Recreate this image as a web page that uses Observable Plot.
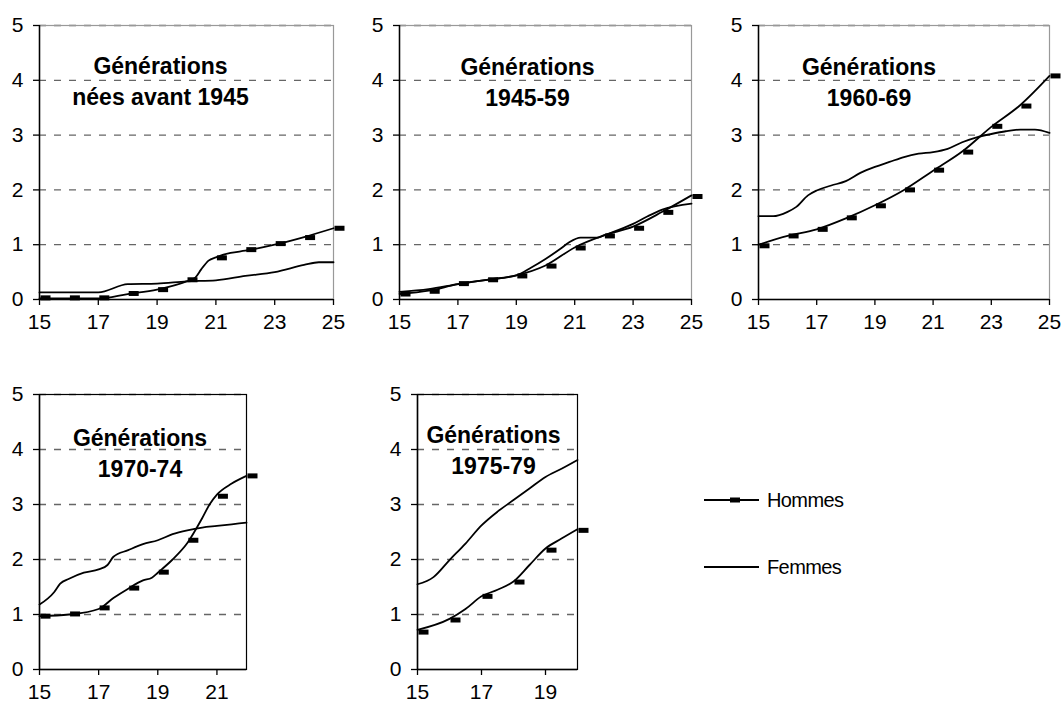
<!DOCTYPE html>
<html>
<head>
<meta charset="utf-8">
<script src="https://cdn.jsdelivr.net/npm/d3@7"></script>
<script src="https://cdn.jsdelivr.net/npm/@observablehq/plot@0.6"></script>
<style>
html, body { margin: 0; padding: 0; background: #fff; }
#chart { position: relative; width: 1063px; height: 709px; overflow: hidden; background: #fff;
  font-family: "Liberation Sans", Arial, sans-serif; }
.panel { position: absolute; }
.panel svg { max-width: none !important; }
</style>
</head>
<body>
<div id="chart"></div>
<script>
// ---------- DATA ----------
const titles = [
  "Générations\nnées avant 1945",
  "Générations\n1945-59",
  "Générations\n1960-69",
  "Générations\n1970-74",
  "Générations\n1975-79"
];
const xMax = [25, 25, 25, 22, 20];
const xTicksTop = [15, 17, 19, 21, 23, 25];
const xTicksP4 = [15, 17, 19, 21];
const xTicksP5 = [15, 17, 19];
const yTicks = [0, 1, 2, 3, 4, 5];
const gridValues = [1, 2, 3, 4, 5];

const agesTop = [15, 16, 17, 18, 19, 20, 21, 22, 23, 24, 25];
const agesP4 = [15, 16, 17, 18, 19, 20, 21, 22];
const agesP5 = [15, 16, 17, 18, 19, 20];

// Hommes: values at markers (yearly)
const hommesMarkers1 = [0.03, 0.03, 0.03, 0.11, 0.18, 0.36, 0.76, 0.91, 1.02, 1.13, 1.30];
const hommesMarkers2 = [0.10, 0.15, 0.29, 0.36, 0.43, 0.61, 0.94, 1.16, 1.30, 1.59, 1.88];
const hommesMarkers3 = [0.98, 1.16, 1.28, 1.49, 1.71, 2.00, 2.36, 2.69, 3.16, 3.53, 4.08];
const hommesMarkers4 = [0.97, 1.01, 1.12, 1.48, 1.77, 2.35, 3.15, 3.52];
const hommesMarkers5 = [0.68, 0.90, 1.33, 1.59, 2.17, 2.53];

// Hommes: curve [age, value]
const hommesLine1 = [[15,0.02],[16,0.02],[17,0.02],[18,0.10],[19,0.18],[20,0.33],[20.3,0.40],[20.5,0.55],[20.75,0.71],[21,0.77],[21.5,0.85],[22,0.89],[23,1.00],[24,1.14],[25,1.30]];
const hommesLine2 = [[15,0.10],[16,0.16],[17,0.28],[18,0.36],[19,0.44],[20,0.62],[21,0.95],[22,1.17],[23,1.33],[24,1.60],[25,1.90]];
const hommesLine3 = [[15,1.00],[16,1.16],[17,1.28],[18,1.48],[19,1.72],[20,2.00],[21,2.35],[22,2.70],[23,3.15],[24,3.55],[25,4.08]];
const hommesLine4 = [[15,0.97],[16,1.00],[17,1.10],[17.5,1.30],[18,1.47],[18.5,1.62],[18.8,1.67],[19,1.76],[19.5,2.00],[20,2.30],[20.5,2.75],[20.75,3.00],[21,3.18],[21.5,3.38],[22,3.52]];
const hommesLine5 = [[15,0.72],[16,0.92],[16.5,1.10],[17,1.33],[17.5,1.45],[18,1.60],[18.5,1.90],[19,2.20],[19.5,2.38],[20,2.55]];

// Femmes: curve [age, value]
const femmesLine1 = [[15,0.13],[16,0.13],[17,0.13],[18,0.28],[19,0.29],[20,0.33],[21,0.35],[22,0.43],[23,0.50],[24,0.63],[24.5,0.68],[25,0.68]];
const femmesLine2 = [[15,0.14],[16,0.19],[17,0.28],[18,0.36],[19,0.44],[19.5,0.58],[20,0.74],[20.5,0.92],[20.8,1.04],[21.2,1.13],[21.8,1.13],[22,1.17],[23,1.38],[23.5,1.52],[24,1.64],[25,1.75]];
const femmesLine3 = [[15,1.52],[15.5,1.52],[16,1.60],[16.3,1.69],[16.7,1.90],[17,1.99],[17.5,2.08],[18,2.16],[18.5,2.31],[19,2.42],[19.5,2.51],[20,2.60],[20.5,2.66],[21,2.69],[21.5,2.75],[22,2.87],[22.5,2.96],[23,3.02],[23.5,3.07],[24,3.10],[24.5,3.10],[25,3.04]];
const femmesLine4 = [[15,1.18],[15.5,1.41],[15.7,1.56],[16,1.65],[16.5,1.76],[17,1.82],[17.3,1.90],[17.5,2.05],[18,2.17],[18.5,2.28],[19,2.35],[19.5,2.46],[20,2.53],[20.5,2.58],[21,2.61],[21.5,2.64],[22,2.67]];
const femmesLine5 = [[15,1.55],[15.5,1.68],[16,1.99],[16.5,2.29],[17,2.62],[17.5,2.87],[18,3.08],[18.5,3.29],[19,3.50],[19.5,3.65],[20,3.81]];

const legendLabels = ["Hommes", "Femmes"];

// ---------- LAYOUT ----------
const panels = [
  {left: 0,   top: 0,   ml: 39, w: 294, mt: 25, h: 274, frame: "#999", tdx: -26, tdy: 54,
   ticks: xTicksTop, ages: agesTop, hm: hommesMarkers1, hl: hommesLine1, fl: femmesLine1},
  {left: 360, top: 0,   ml: 39, w: 292, mt: 25, h: 274, frame: "#999", tdx: -18, tdy: 55,
   ticks: xTicksTop, ages: agesTop, hm: hommesMarkers2, hl: hommesLine2, fl: femmesLine2},
  {left: 719, top: 0,   ml: 39, w: 291, mt: 25, h: 274, frame: "#999", tdx: -35, tdy: 55,
   ticks: xTicksTop, ages: agesTop, hm: hommesMarkers3, hl: hommesLine3, fl: femmesLine3},
  {left: 0,   top: 370, ml: 39, w: 207, mt: 24, h: 275, frame: "#000", tdx: -3, tdy: 57,
   ticks: xTicksP4, ages: agesP4, hm: hommesMarkers4, hl: hommesLine4, fl: femmesLine4},
  {left: 378, top: 370, ml: 39, w: 160, mt: 24, h: 275, frame: "#000", tdx: -4, tdy: 54,
   ticks: xTicksP5, ages: agesP5, hm: hommesMarkers5, hl: hommesLine5, fl: femmesLine5}
];

const barSymbol = {
  draw(ctx) {
    ctx.moveTo(-5, -2.5); ctx.lineTo(5, -2.5); ctx.lineTo(5, 2.5); ctx.lineTo(-5, 2.5); ctx.closePath();
  }
};

const chart = document.getElementById("chart");

panels.forEach((p, i) => {
  const mr = 24, mb = 40;
  const W = p.ml + p.w + mr, H = p.mt + p.h + mb;
  const markerData = p.hm.map((v, j) => ({age: p.ages[j], value: v}));
  const svg = Plot.plot({
    width: W,
    height: H,
    marginLeft: p.ml, marginRight: mr, marginTop: p.mt, marginBottom: mb,
    x: {domain: [15, xMax[i]]},
    y: {domain: [0, 5]},
    style: {fontFamily: "'Liberation Sans', Arial, sans-serif", fontSize: "21px", color: "#000",
            background: "transparent", overflow: "visible", maxWidth: "none"},
    marks: [
      Plot.gridY(gridValues, {stroke: "#666", strokeOpacity: 1, strokeDasharray: "7,8", strokeWidth: 1.3}),
      Plot.frame({stroke: p.frame, strokeWidth: 1.2}),
      Plot.ruleY([0], {stroke: "#000", strokeWidth: 1.5}),
      Plot.ruleX([15], {stroke: "#000", strokeWidth: 1.5}),
      Plot.axisY(yTicks, {tickSize: 6, tickPadding: 10, fontSize: 21, label: null, strokeWidth: 1.3, tickFormat: d => String(d)}),
      Plot.axisX(p.ticks, {tickSize: 6, tickPadding: 9, fontSize: 21, label: null, strokeWidth: 1.3, tickFormat: d => String(d)}),
      Plot.line(p.fl, {x: d => d[0], y: d => d[1], stroke: "#000", strokeWidth: 1.8, curve: "monotone-x"}),
      Plot.line(p.hl, {x: d => d[0], y: d => d[1], stroke: "#000", strokeWidth: 1.8, curve: "monotone-x"}),
      Plot.dot(markerData, {x: "age", y: "value", symbol: barSymbol, fill: "#000", stroke: null, dx: 6}),
      Plot.text([titles[i]], {frameAnchor: "top", dx: p.tdx, dy: p.tdy, lineAnchor: "middle",
        fontSize: 23, fontWeight: "bold", lineHeight: 1.35, fill: "#000"})
    ]
  });
  const div = document.createElement("div");
  div.className = "panel";
  div.style.left = p.left + "px";
  div.style.top = p.top + "px";
  div.style.width = W + "px";
  div.style.height = H + "px";
  div.appendChild(svg);
  chart.appendChild(div);
});

// ---------- LEGEND ----------
const leg = d3.create("svg").attr("width", 200).attr("height", 120)
  .style("position", "absolute").style("left", "690px").style("top", "470px")
  .style("font-family", "'Liberation Sans', Arial, sans-serif");
const rowsY = [30, 97];
legendLabels.forEach((lab, k) => {
  const y = rowsY[k];
  leg.append("line").attr("x1", 14).attr("x2", 69).attr("y1", y).attr("y2", y)
    .attr("stroke", "#000").attr("stroke-width", 1.8);
  if (k === 0) {
    leg.append("rect").attr("x", 40).attr("y", y - 2.5).attr("width", 10).attr("height", 5).attr("fill", "#000");
  }
  leg.append("text").attr("x", 77).attr("y", y).attr("dy", "0.35em")
    .attr("font-size", 20).attr("fill", "#000").attr("letter-spacing", "-0.6").text(lab);
});
chart.appendChild(leg.node());
</script>
</body>
</html>
